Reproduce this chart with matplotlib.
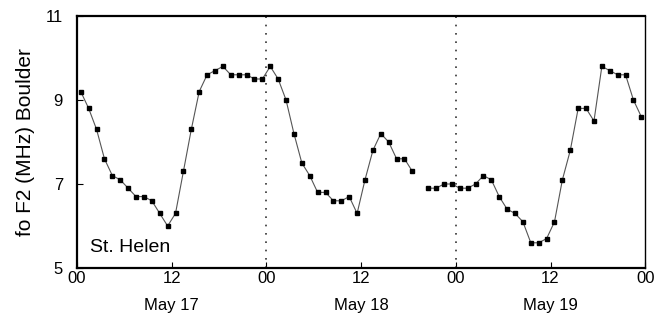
import numpy as np
import matplotlib
matplotlib.use('Agg')
import matplotlib.pyplot as plt

plt.rcParams['font.family'] = ['Liberation Sans', 'DejaVu Sans']

# hourly foF2 values (MHz), May 17-19, NaN = missing
hours = np.arange(72) + 0.5
fof2 = [9.2, 8.8, 8.3, 7.6, 7.2, 7.1, 6.9, 6.7, 6.7, 6.6, 6.3, 6.0,
        6.3, 7.3, 8.3, 9.2, 9.6, 9.7, 9.8, 9.6, 9.6, 9.6, 9.5, 9.5,
        9.8, 9.5, 9.0, 8.2, 7.5, 7.2, 6.8, 6.8, 6.6, 6.6, 6.7, 6.3,
        7.1, 7.8, 8.2, 8.0, 7.6, 7.6, 7.3, np.nan, 6.9, 6.9, 7.0, 7.0,
        6.9, 6.9, 7.0, 7.2, 7.1, 6.7, 6.4, 6.3, 6.1, 5.6, 5.6, 5.7,
        6.1, 7.1, 7.8, 8.8, 8.8, 8.5, 9.8, 9.7, 9.6, 9.6, 9.0, 8.6]

xticks = [0, 12, 24, 36, 48, 60, 72]
xticklabels = ['00', '12', '00', '12', '00', '12', '00']
days = ['May 17', 'May 18', 'May 19']
day_centers = [12, 36, 60]
yticks = [5, 7, 9, 11]

fig = plt.figure(figsize=(6.68, 3.2), dpi=100)
ax = fig.add_axes([0.115, 0.1625, 0.851, 0.7875])

ax.plot(hours, fof2, color='#555555', linewidth=0.8, marker='s',
        markersize=3.3, markerfacecolor='black', markeredgecolor='black')

# day boundaries
for d in [24, 48]:
    ax.axvline(d, color='#333333', linestyle=(0, (1, 4)), linewidth=1.2)

ax.set_xlim(0, 72)
ax.set_ylim(5, 11)
ax.set_xticks(xticks)
ax.set_xticklabels(xticklabels)
ax.set_yticks(yticks)
ax.tick_params(direction='in', labelsize=12, length=4)
ax.tick_params(axis='x', pad=2)
ax.tick_params(axis='y', pad=10)

for s in ['left', 'bottom', 'top']:
    ax.spines[s].set_linewidth(1.6)
ax.spines['right'].set_linewidth(1.0)

for c, lab in zip(day_centers, days):
    ax.text(c, -0.12, lab, transform=ax.get_xaxis_transform(),
            ha='center', va='top', fontsize=12)

ax.text(1.65, 5.38, 'St. Helen', fontsize=14, ha='left', va='baseline')
ax.set_ylabel('fo F2 (MHz) Boulder', fontsize=15, labelpad=8)

fig.savefig('out.png', dpi=100)
